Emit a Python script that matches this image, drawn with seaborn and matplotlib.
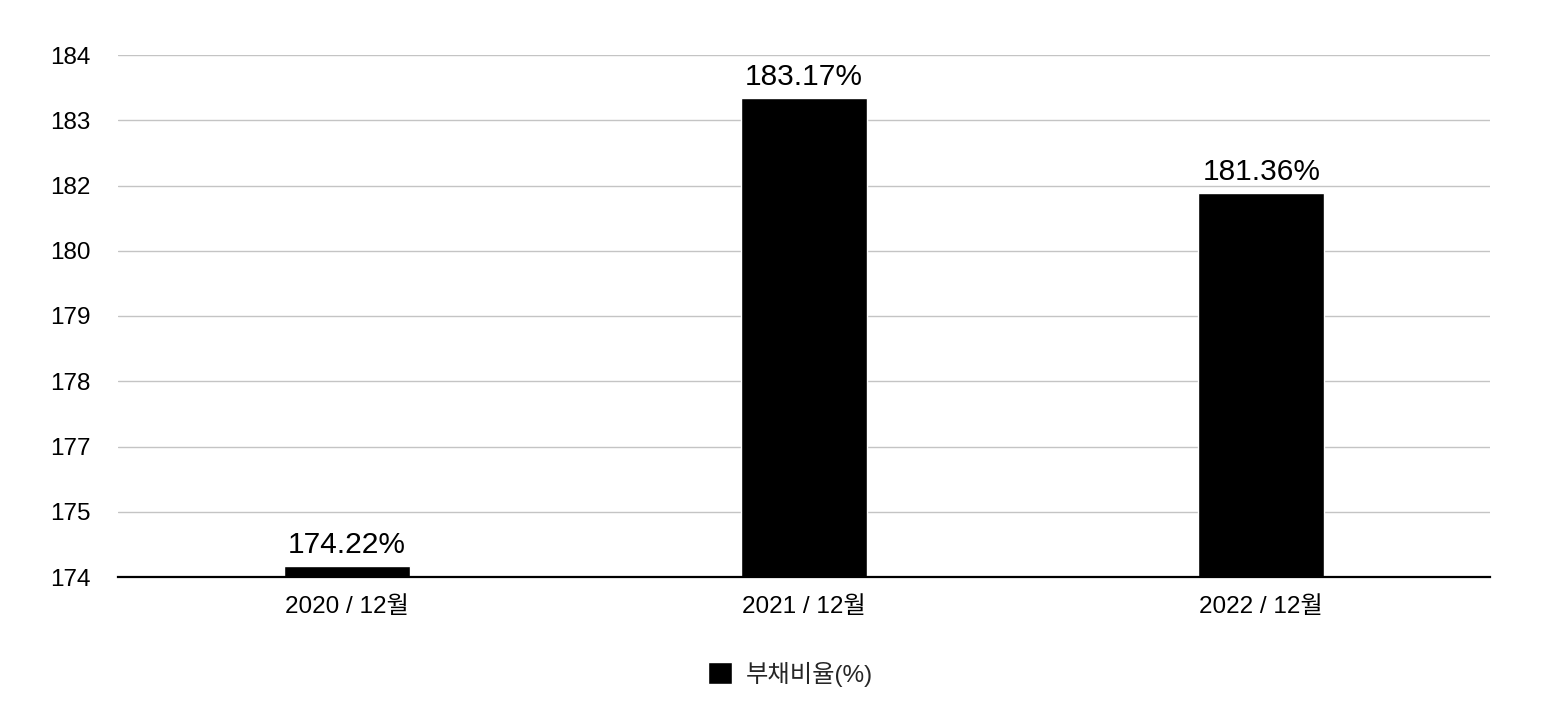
import numpy as np
import pandas as pd
import matplotlib
matplotlib.use("Agg")
import matplotlib.pyplot as plt
import seaborn as sns

# ---------------------------
# Data
# ---------------------------
periods = ["2020 / 12월", "2021 / 12월", "2022 / 12월"]
debt_ratio = [174.22, 183.17, 181.36]
series_name = "부채비율(%)"
y_min, y_max = 174, 184

df = pd.DataFrame({"period": periods, "ratio": debt_ratio})

# ---------------------------
# Style
# ---------------------------
sns.set_theme(style="white")
plt.rcParams["font.family"] = ["Liberation Sans", "Noto Sans CJK KR", "DejaVu Sans"]

fig = plt.figure(figsize=(15.46, 7.22), dpi=100)
ax = fig.add_axes([118 / 1546, (722 - 577) / 722, 1372 / 1546, 522 / 722])

sns.barplot(data=df, x="period", y="ratio", color="black", width=0.275,
            saturation=1, label=series_name, ax=ax, zorder=3)

ax.set_ylim(y_min, y_max)
ticks = np.linspace(y_min, y_max, 9)
ax.set_yticks(ticks)
# labels shown rounded half-up, like the source chart
ax.set_yticklabels([str(int(np.floor(t + 0.5))) for t in ticks])

for c in ax.containers:
    ax.bar_label(c, labels=[f"{v:.2f}%" for v in debt_ratio],
                 padding=5, fontsize=21.5, color="black")

ax.grid(axis="y", color="#c4c4c4", linewidth=1, zorder=0)
for s in ["top", "right", "left"]:
    ax.spines[s].set_visible(False)
ax.spines["bottom"].set_color("black")
ax.spines["bottom"].set_linewidth(1.6)
ax.spines["bottom"].set_zorder(4)

ax.tick_params(axis="y", length=0, pad=19.5, labelsize=17.5, labelcolor="black")
ax.tick_params(axis="x", length=0, pad=14, labelsize=17.5, labelcolor="black")
ax.set_xlabel("")
ax.set_ylabel("")

ax.legend(loc="upper center", bbox_to_anchor=(0.49, -0.12), frameon=False,
          fontsize=17.5, handlelength=1.0, handleheight=1.0, handletextpad=0.55)

plt.savefig("out.png", dpi=100)
plt.close()
